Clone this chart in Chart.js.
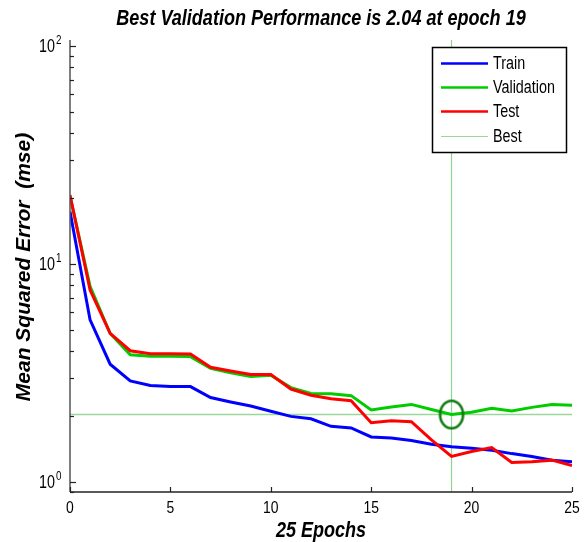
<!DOCTYPE html>
<html>
<head>
<meta charset="utf-8">
<script src="https://cdn.jsdelivr.net/npm/chart.js@4/dist/chart.umd.min.js"></script>
<style>
  html, body { margin: 0; padding: 0; background: #fff; }
  #wrap { width: 587px; height: 542px; }
</style>
</head>
<body>
<div id="wrap"><canvas id="c" width="587" height="542"></canvas></div>
<script>
// ---- data ----
const epochs = [0,1,2,3,4,5,6,7,8,9,10,11,12,13,14,15,16,17,18,19,20,21,22,23,24,25];
const trainMSE = [17.4,5.54,3.47,2.91,2.77,2.74,2.74,2.44,2.33,2.23,2.11,2.00,1.95,1.80,1.77,1.61,1.59,1.55,1.49,1.45,1.43,1.40,1.35,1.31,1.26,1.24];
const validationMSE = [20.5,7.9,4.8,3.83,3.77,3.77,3.76,3.32,3.17,3.05,3.09,2.71,2.55,2.54,2.49,2.14,2.21,2.27,2.15,2.04,2.09,2.18,2.12,2.20,2.27,2.25];
const testMSE = [20.7,7.6,4.81,4.0,3.88,3.88,3.87,3.36,3.23,3.11,3.11,2.67,2.50,2.41,2.36,1.87,1.91,1.89,1.56,1.31,1.38,1.44,1.23,1.24,1.26,1.19];
const bestEpoch = 19;
const bestPerf = 2.04;
const xTickValues = [0,5,10,15,20,25];
const yTickExponents = [0,1,2];
const seriesNames = ['Train','Validation','Test','Best'];
const titleText = 'Best Validation Performance is 2.04 at epoch 19';
const xTitleText = '25 Epochs';
const yTitleText = 'Mean Squared Error  (mse)';

const X_MIN = 0, X_MAX = 25, Y_MIN = 0.9, Y_MAX = 106.5;
const SX = 0.82; // horizontal squeeze of the reference's lettering
const FONT = '"Liberation Sans", Arial, sans-serif';

function pts(vals) { return epochs.map((e, i) => ({ x: e, y: vals[i] })); }

// ellipse marker for the best point
const ell = document.createElement('canvas');
ell.width = 30; ell.height = 34;
(function () {
  const g = ell.getContext('2d');
  g.strokeStyle = '#117a11';
  g.lineWidth = 2.6;
  g.beginPath();
  g.ellipse(15, 17, 11.5, 13.8, 0, 0, Math.PI * 2);
  g.stroke();
})();

function txt(ctx, s, x, y, font, align, color) {
  ctx.save();
  ctx.translate(x, y);
  ctx.scale(SX, 1);
  ctx.font = font;
  ctx.textAlign = align || 'left';
  ctx.textBaseline = 'alphabetic';
  ctx.fillStyle = color || '#000';
  ctx.fillText(s, 0, 0);
  ctx.restore();
}

const decor = {
  id: 'decor',
  beforeDraw(chart) {
    const ctx = chart.ctx;
    ctx.save();
    ctx.fillStyle = '#fff';
    ctx.fillRect(0, 0, chart.width, chart.height);
    ctx.restore();
  },
  afterDraw(chart) {
    const ctx = chart.ctx;
    const xs = chart.scales.x, ys = chart.scales.y;
    const a = chart.chartArea;
    ctx.save();
    // axes lines
    ctx.lineWidth = 1.5;
    ctx.strokeStyle = '#555';
    ctx.beginPath(); ctx.moveTo(a.left, a.top); ctx.lineTo(a.left, a.bottom); ctx.stroke();
    ctx.strokeStyle = '#222';
    ctx.beginPath(); ctx.moveTo(a.left, a.bottom); ctx.lineTo(a.right, a.bottom); ctx.stroke();
    // y ticks (inward), major + minor
    ctx.lineWidth = 1.2;
    ctx.strokeStyle = '#222';
    for (let k = -1; k <= 2; k++) {
      for (let m = 1; m <= 9; m++) {
        const v = m * Math.pow(10, k);
        if (v < Y_MIN || v > Y_MAX) continue;
        const py = Math.round(ys.getPixelForValue(v)) + 0.5;
        const len = m === 1 ? 6 : 4;
        ctx.beginPath(); ctx.moveTo(a.left, py); ctx.lineTo(a.left + len, py); ctx.stroke();
      }
    }
    // x ticks (inward)
    xTickValues.forEach(v => {
      const px = Math.round(xs.getPixelForValue(v)) + 0.5;
      ctx.beginPath(); ctx.moveTo(px, a.bottom); ctx.lineTo(px, a.bottom - 5); ctx.stroke();
    });
    // x tick labels
    xTickValues.forEach(v => {
      txt(ctx, String(v), xs.getPixelForValue(v), a.bottom + 21, '17px ' + FONT, 'center', '#000');
    });
    // y tick labels 10^k
    yTickExponents.forEach(k => {
      const py = ys.getPixelForValue(Math.pow(10, k));
      txt(ctx, '10', a.left - 15, py + 6, '17.5px ' + FONT, 'right', '#000');
      txt(ctx, String(k), a.left - 14, py - 2, '12px ' + FONT, 'left', '#000');
    });
    // titles
    txt(ctx, titleText, (a.left + a.right) / 2, 25, 'italic bold 22px ' + FONT, 'center', '#000');
    txt(ctx, xTitleText, (a.left + a.right) / 2, 537, 'italic bold 22px ' + FONT, 'center', '#000');
    ctx.save();
    ctx.translate(30, (a.top + a.bottom) / 2 + 1);
    ctx.rotate(-Math.PI / 2);
    ctx.scale(1.0, 0.95);
    ctx.font = 'italic bold 21px ' + FONT;
    ctx.textAlign = 'center';
    ctx.fillStyle = '#000';
    ctx.fillText(yTitleText, 0, 0);
    ctx.restore();
    // legend
    const L = 432, T = 47, R = 567, B = 153;
    ctx.fillStyle = '#fff';
    ctx.fillRect(L, T, R - L, B - T);
    ctx.strokeStyle = '#000';
    ctx.lineWidth = 1.5;
    ctx.strokeRect(L + 0.5, T + 0.5, R - L - 1, B - T - 1);
    const rows = [63, 87, 111, 136];
    const legendDs = [0, 1, 2, 3];
    legendDs.forEach((di, i) => {
      const ds = chart.data.datasets[di];
      ctx.strokeStyle = ds.borderColor;
      ctx.lineWidth = di === 3 ? 1 : 2.5;
      ctx.beginPath(); ctx.moveTo(441, rows[i] + 0.5); ctx.lineTo(488, rows[i] + 0.5); ctx.stroke();
      txt(ctx, ds.label, 493, rows[i] + 6, '17.5px ' + FONT, 'left', '#000');
    });
    ctx.restore();
  }
};

new Chart(document.getElementById('c'), {
  type: 'line',
  data: {
    datasets: [
      { label: seriesNames[0], data: pts(trainMSE), borderColor: '#0000ff', borderWidth: 3, order: 1 },
      { label: seriesNames[1], data: pts(validationMSE), borderColor: '#00cc00', borderWidth: 3, order: 2 },
      { label: seriesNames[2], data: pts(testMSE), borderColor: '#ff0000', borderWidth: 3, order: 0 },
      { label: seriesNames[3], data: [{ x: X_MIN, y: bestPerf }, { x: X_MAX, y: bestPerf }], borderColor: '#9cd69c', borderWidth: 1.3, order: 5 },
      { label: 'BestV', data: [{ x: bestEpoch, y: Y_MIN }, { x: bestEpoch, y: Y_MAX }], borderColor: '#8fd48f', borderWidth: 1.2, order: 5 },
      { label: 'BestPt', data: [{ x: bestEpoch, y: bestPerf }], borderColor: 'rgba(0,0,0,0)', showLine: false,
        pointStyle: ell, pointRadius: 14, order: -1 }
    ]
  },
  options: {
    responsive: false,
    animation: false,
    devicePixelRatio: 1,
    layout: { padding: { left: 70, right: 15, top: 40, bottom: 50 } },
    elements: { line: { tension: 0, fill: false }, point: { radius: 0, hoverRadius: 0 } },
    plugins: { legend: { display: false }, title: { display: false }, tooltip: { enabled: false } },
    scales: {
      x: { type: 'linear', min: X_MIN, max: X_MAX, display: false },
      y: { type: 'logarithmic', min: Y_MIN, max: Y_MAX, display: false }
    }
  },
  plugins: [decor]
});
</script>
</body>
</html>
